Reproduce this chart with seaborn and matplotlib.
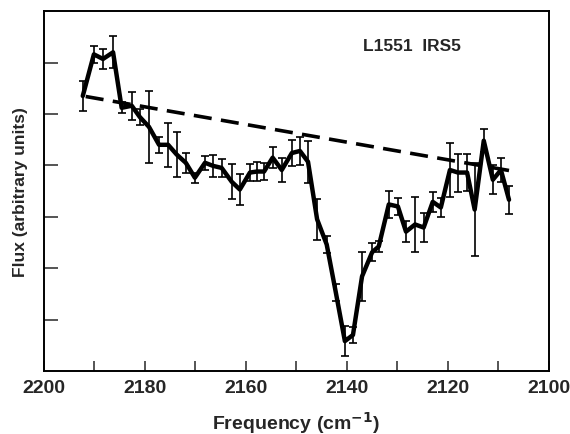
import seaborn as sns
import matplotlib
matplotlib.use("Agg")
import matplotlib.pyplot as plt
import pandas as pd

# frequency (cm^-1) of each measured point
freq = [2192.3, 2190.1, 2188.3, 2186.3, 2184.6, 2182.6, 2181.0, 2179.2, 2177.2, 2175.4,
        2173.7, 2171.9, 2170.1, 2168.1, 2166.5, 2164.8, 2162.8, 2161.2, 2159.2, 2157.8,
        2156.4, 2154.7, 2152.9, 2150.9, 2149.3, 2147.7, 2145.9, 2144.0, 2142.2, 2140.4,
        2138.8, 2137.0, 2135.0, 2133.7, 2131.7, 2129.9, 2128.3, 2126.5, 2124.8, 2123.0,
        2121.4, 2119.6, 2118.0, 2116.2, 2114.7, 2112.9, 2111.1, 2109.5, 2107.9]
# flux (arbitrary units)
flux = [5.35, 6.16, 6.07, 6.20, 5.12, 5.16, 4.94, 4.75, 4.40, 4.40,
        4.21, 4.05, 3.76, 4.05, 3.99, 3.95, 3.68, 3.53, 3.86, 3.88,
        3.88, 4.15, 3.91, 4.24, 4.28, 4.07, 2.95, 2.46, 1.53, 0.58,
        0.70, 1.84, 2.31, 2.42, 3.24, 3.20, 2.71, 2.85, 2.79, 3.29,
        3.18, 3.91, 3.86, 3.86, 3.14, 4.48, 3.72, 3.91, 3.33]
# error bar half lengths
err = [0.30, 0.17, 0.19, 0.31, 0.11, 0.27, 0.16, 0.70, 0.15, 0.43,
       0.44, 0.19, 0.10, 0.14, 0.22, 0.18, 0.34, 0.31, 0.16, 0.19,
       0.17, 0.21, 0.24, 0.25, 0.27, 0.41, 0.40, 0.17, 0.17, 0.29,
       0.16, 0.48, 0.18, 0.10, 0.26, 0.17, 0.20, 0.53, 0.29, 0.20,
       0.18, 0.53, 0.37, 0.36, 0.90, 0.22, 0.28, 0.24, 0.27]

# assumed continuum (dashed line)
cont_freq = [2192.3, 2107.9]
cont_flux = [5.35, 3.90]

df = pd.DataFrame({"freq": freq, "flux": flux, "err": err})
cont = pd.DataFrame({"freq": cont_freq, "flux": cont_flux})

sns.set_style("ticks")
plt.rcParams["font.family"] = ["Liberation Sans", "DejaVu Sans"]
plt.rcParams["font.weight"] = "bold"

fig = plt.figure(figsize=(5.7, 4.35), dpi=100)
ax = fig.add_axes([0.077, 0.145, 0.886, 0.827])

ax.errorbar(df["freq"], df["flux"], yerr=df["err"], fmt="none",
            ecolor="black", elinewidth=1.2, capsize=3, capthick=1.2, zorder=2)
sns.lineplot(data=df, x="freq", y="flux", color="black", linewidth=3.2,
             ax=ax, zorder=3)
sns.lineplot(data=cont, x="freq", y="flux", color="black", linewidth=2.6,
             ax=ax, zorder=4)
ax.lines[-1].set_dashes([5, 2.6])

ax.set_xlim(2200, 2100)
ax.set_ylim(0, 7)
ax.set_xticks(range(2200, 2099, -20))
ax.set_xticks(range(2190, 2100, -20), minor=True)
ax.set_yticks([1, 2, 3, 4, 5, 6])
ax.set_yticklabels([])
ax.tick_params(axis="x", which="both", direction="in", length=7, width=1.1,
               labelsize=14, pad=6)
ax.tick_params(axis="y", direction="in", length=10, width=1.1)
for lab in ax.get_xticklabels():
    lab.set_fontweight("bold")
for s in ax.spines.values():
    s.set_linewidth(1.4)
    s.set_color("black")

ax.set_xlabel("Frequency (cm$^{\\mathbf{-1}}$)", fontsize=14, fontweight="bold", labelpad=9)
ax.set_ylabel("Flux (arbitrary units)", fontsize=12.5, fontweight="bold", labelpad=8)
ax.text(0.632, 0.905, "L1551  IRS5", transform=ax.transAxes, fontsize=12.5,
        fontweight="bold", va="center", ha="left")

fig.savefig("out.png", dpi=100)
